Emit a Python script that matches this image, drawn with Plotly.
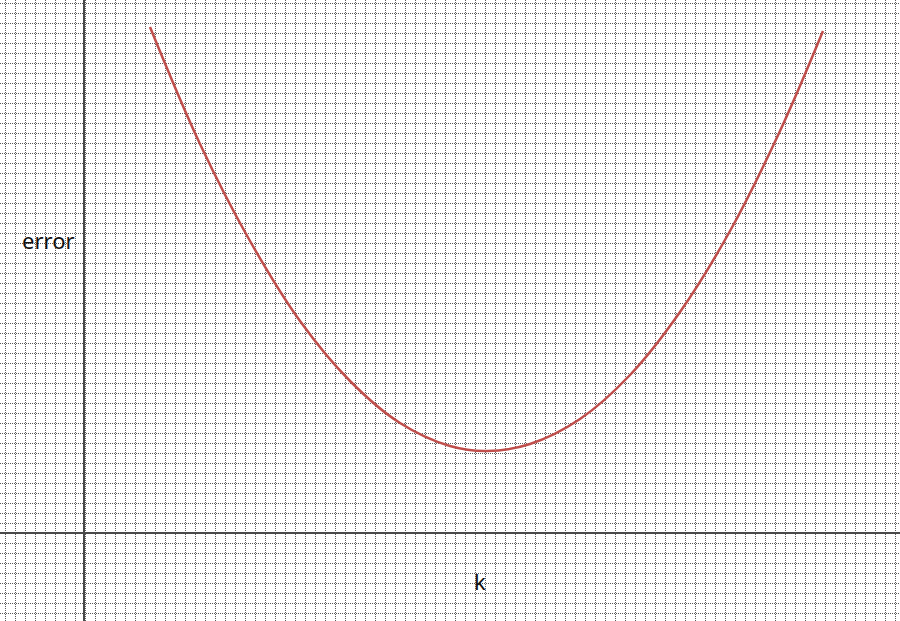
import plotly.graph_objects as go

# values (grid units: 1 cell = 10)
k = [66, 116, 166, 216, 266, 316, 366, 403, 446, 496, 546, 596, 646, 696, 739]
error = [506, 389, 292, 212, 152, 110, 87, 82, 89, 114, 158, 221, 302, 402, 502]

fig = go.Figure()
fig.add_trace(go.Scatter(
    x=k, y=error, mode="lines",
    line=dict(color="rgb(192,80,77)", width=2.5, shape="spline"),
    hoverinfo="skip", showlegend=False,
))

grid = dict(showgrid=True, gridcolor="#5a5a5a", gridwidth=1, griddash="1px,1px",
            showticklabels=False, ticks="", zeroline=True,
            zerolinecolor="#4a4a4a", zerolinewidth=2, showline=False, fixedrange=True)

fig.update_layout(
    width=900, height=621,
    margin=dict(l=0, r=0, t=0, b=0),
    paper_bgcolor="white", plot_bgcolor="white",
    xaxis=dict(range=[-84, 816], tick0=1, dtick=10, **grid),
    yaxis=dict(range=[-88, 533], tick0=0, dtick=10, **grid),
    font=dict(family="Noto Sans, DejaVu Sans, sans-serif", size=22, color="#111"),
    annotations=[
        dict(x=-36, y=293, text="error", showarrow=False, xanchor="center", yanchor="middle",
             font=dict(size=22)),
        dict(x=396, y=-48, text="k", showarrow=False, xanchor="center", yanchor="middle",
             font=dict(size=22)),
    ],
)

fig.write_html("out.html", config={"displayModeBar": False},
               post_script="document.body.style.margin='0';document.body.style.overflow='hidden';")
